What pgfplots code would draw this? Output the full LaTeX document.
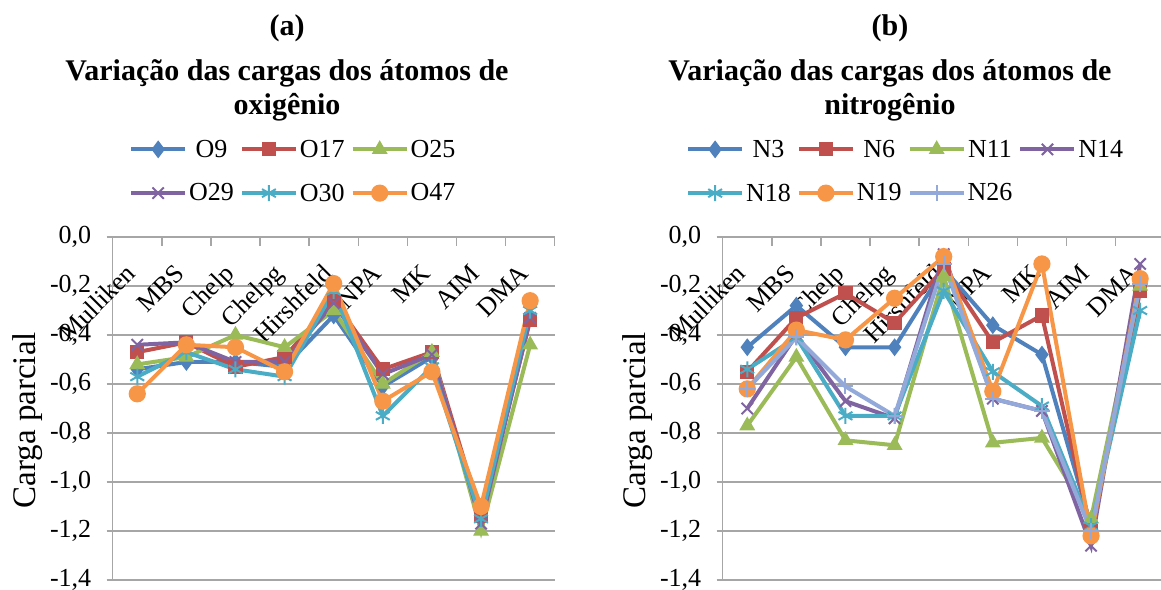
\documentclass[border=0pt]{standalone}
\usepackage{fontspec}
\setmainfont{Liberation Serif}
\usepackage{pgfplots}
\pgfplotsset{compat=1.18}
\definecolor{s1}{HTML}{4F81BD}
\definecolor{s2}{HTML}{C0504D}
\definecolor{s3}{HTML}{9BBB59}
\definecolor{s4}{HTML}{8064A2}
\definecolor{s5}{HTML}{4BACC6}
\definecolor{s6}{HTML}{F79646}
\definecolor{s7}{HTML}{92A9D9}
\definecolor{gridc}{HTML}{A6A6A6}
\pgfplotsset{
  chgaxis/.style={
    scale only axis, width=442pt, height=343pt,
    xmin=-0.5, xmax=8.5, ymin=-1.4, ymax=0,
    axis x line=top, axis y line=left,
    axis line style={draw=gridc, line width=1.5pt, -},
    xtick={0,...,8},
    xticklabels={Mulliken,MBS,Chelp,Chelpg,Hirshfeld,NPA,MK,AIM,DMA},
    minor xtick={-0.5,0.5,1.5,2.5,3.5,4.5,5.5,6.5,7.5,8.5},
    major x tick style={draw=none},
    minor x tick style={draw=gridc, line width=1.5pt},
    major y tick style={draw=gridc, line width=1.5pt},
    xtick align=inside, ytick align=outside,
    major tick length=6pt, minor tick length=9pt,
    ytick={-1.4,-1.2,-1.0,-0.8,-0.6,-0.4,-0.2,0},
    ymajorgrids, grid style={draw=gridc, line width=1.5pt},
    xticklabel style={font=\fontsize{26}{30}\selectfont, anchor=base east, inner sep=0pt, xshift=0pt, yshift=-38pt, rotate=45},
    yticklabel style={font=\fontsize{26}{30}\selectfont, xshift=-12pt, /pgf/number format/.cd, use comma, fixed, fixed zerofill, precision=1, assume math mode=true},
    ylabel={Carga parcial},
    ylabel style={font=\fontsize{33}{40}\selectfont, at={(axis description cs:0,0.466)}, anchor=south, inner sep=0pt, yshift=70pt},
    legend image code/.code={\draw[mark repeat=2,mark phase=2] plot coordinates {(0pt,0pt) (27pt,0pt) (54pt,0pt)};},
    legend style={draw=none, fill=none, font=\fontsize{26}{30}\selectfont, row sep=21pt, /tikz/every even column/.append style={column sep=4pt}},
    every axis plot/.append style={line width=4pt, mark options={solid, line width=1.2pt}},
  }
}
\begin{document}
\begin{tikzpicture}
\useasboundingbox (0pt,0pt) rectangle (1161pt,-589pt);
\node[font=\bfseries\fontsize{30}{36}\selectfont, anchor=base] at (287pt,-35pt) {(a)};
\node[font=\bfseries\fontsize{30}{36}\selectfont, anchor=base] at (287pt,-80pt) {Variação das cargas dos átomos de};
\node[font=\bfseries\fontsize{30}{36}\selectfont, anchor=base] at (287pt,-114pt) {oxigênio};
\node[font=\bfseries\fontsize{30}{36}\selectfont, anchor=base] at (890pt,-35pt) {(b)};
\node[font=\bfseries\fontsize{30}{36}\selectfont, anchor=base] at (890pt,-80pt) {Variação das cargas dos átomos de};
\node[font=\bfseries\fontsize{30}{36}\selectfont, anchor=base] at (890pt,-114pt) {nitrogênio};

\begin{axis}[chgaxis, at={(112.7pt,-580pt)}, anchor=south west,
  legend columns=3, legend style={at={(0.03,1.295)}, anchor=north west}]
\addplot[color=s1, mark=diamond*, mark size=8pt] coordinates {(0,-0.54) (1,-0.51) (2,-0.51) (3,-0.53) (4,-0.32) (5,-0.61) (6,-0.49) (7,-1.15) (8,-0.33)};
\addlegendentry{O9}
\addplot[color=s2, mark=square*, mark size=6.5pt] coordinates {(0,-0.47) (1,-0.43) (2,-0.53) (3,-0.49) (4,-0.26) (5,-0.54) (6,-0.47) (7,-1.14) (8,-0.34)};
\addlegendentry{O17}
\addplot[color=s3, mark=triangle*, mark size=8pt] coordinates {(0,-0.52) (1,-0.49) (2,-0.40) (3,-0.45) (4,-0.30) (5,-0.60) (6,-0.47) (7,-1.20) (8,-0.44)};
\addlegendentry{O25}
\addplot[color=s4, mark=x, mark size=8pt, mark options={line width=2pt}] coordinates {(0,-0.44) (1,-0.43) (2,-0.51) (3,-0.51) (4,-0.27) (5,-0.56) (6,-0.48) (7,-1.17) (8,-0.33)};
\addlegendentry{O29}
\addplot[color=s5, mark=asterisk, mark size=8pt, mark options={line width=2pt}] coordinates {(0,-0.57) (1,-0.47) (2,-0.54) (3,-0.57) (4,-0.22) (5,-0.73) (6,-0.53) (7,-1.15) (8,-0.30)};
\addlegendentry{O30}
\addplot[color=s6, mark=*, mark size=8pt] coordinates {(0,-0.64) (1,-0.44) (2,-0.45) (3,-0.55) (4,-0.19) (5,-0.67) (6,-0.55) (7,-1.10) (8,-0.26)};
\addlegendentry{O47}
\end{axis}

\begin{axis}[chgaxis, at={(722.7pt,-580pt)}, anchor=south west,
  legend columns=4, legend style={at={(-0.09,1.295)}, anchor=north west}]
\addplot[color=s1, mark=diamond*, mark size=8pt] coordinates {(0,-0.45) (1,-0.28) (2,-0.45) (3,-0.45) (4,-0.13) (5,-0.36) (6,-0.48) (7,-1.18) (8,-0.18)};
\addlegendentry{N3}
\addplot[color=s2, mark=square*, mark size=6.5pt] coordinates {(0,-0.55) (1,-0.33) (2,-0.23) (3,-0.35) (4,-0.13) (5,-0.43) (6,-0.32) (7,-1.20) (8,-0.22)};
\addlegendentry{N6}
\addplot[color=s3, mark=triangle*, mark size=8pt] coordinates {(0,-0.77) (1,-0.49) (2,-0.83) (3,-0.85) (4,-0.16) (5,-0.84) (6,-0.82) (7,-1.15) (8,-0.20)};
\addlegendentry{N11}
\addplot[color=s4, mark=x, mark size=8pt, mark options={line width=2pt}] coordinates {(0,-0.70) (1,-0.40) (2,-0.67) (3,-0.74) (4,-0.07) (5,-0.66) (6,-0.71) (7,-1.26) (8,-0.11)};
\addlegendentry{N14}
\addplot[color=s5, mark=asterisk, mark size=8pt, mark options={line width=2pt}] coordinates {(0,-0.54) (1,-0.41) (2,-0.73) (3,-0.73) (4,-0.22) (5,-0.55) (6,-0.69) (7,-1.18) (8,-0.30)};
\addlegendentry{N18}
\addplot[color=s6, mark=*, mark size=8pt] coordinates {(0,-0.62) (1,-0.38) (2,-0.42) (3,-0.25) (4,-0.08) (5,-0.63) (6,-0.11) (7,-1.22) (8,-0.17)};
\addlegendentry{N19}
\addplot[color=s7, mark=+, mark size=8pt, mark options={line width=2pt}] coordinates {(0,-0.62) (1,-0.41) (2,-0.61) (3,-0.73) (4,-0.11) (5,-0.66) (6,-0.71) (7,-1.20) (8,-0.19)};
\addlegendentry{N26}
\end{axis}
\end{tikzpicture}
\end{document}
